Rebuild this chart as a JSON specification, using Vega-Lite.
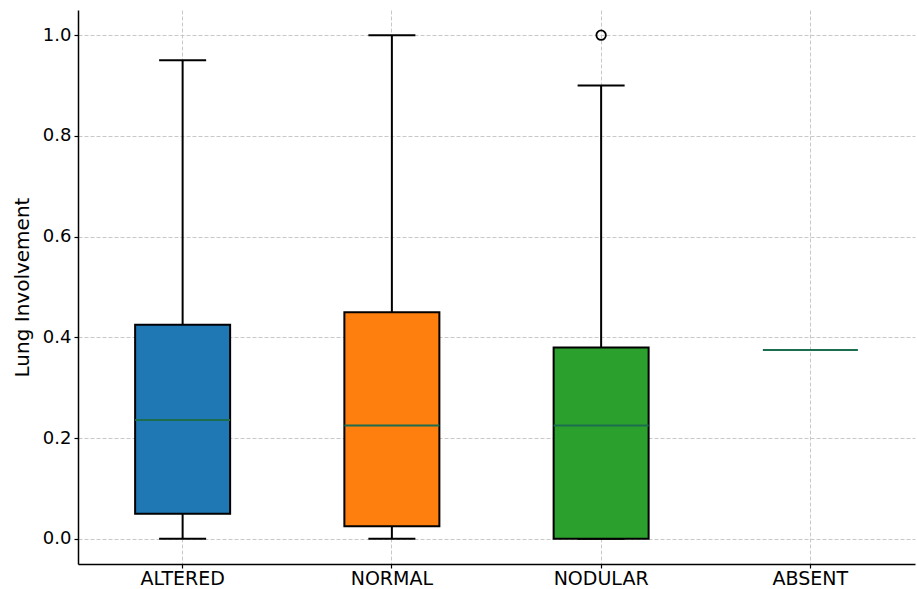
{
  "$schema": "https://vega.github.io/schema/vega-lite/v6.json",
  "width": 837,
  "height": 554,
  "autosize": {"type": "none"},
  "padding": {"left": 78, "top": 10, "right": 2, "bottom": 25},
  "background": "white",
  "config": {
    "view": {"stroke": null},
    "font": "DejaVu Sans",
    "axis": {
      "labelFont": "DejaVu Sans",
      "titleFont": "DejaVu Sans",
      "labelFontSize": 18,
      "titleFontSize": 20,
      "labelColor": "#000000",
      "titleColor": "#000000",
      "titleFontWeight": "normal",
      "domainColor": "#000000",
      "domainWidth": 1.5,
      "tickColor": "#000000",
      "tickSize": 4,
      "tickWidth": 1.2,
      "labelPadding": 3,
      "gridColor": "#c8c8c8",
      "gridDash": [4, 2],
      "gridWidth": 1
    }
  },
  "datasets": {
    "boxes": [
      {"group": "ALTERED", "lower": 0.0, "q1": 0.05, "median": 0.236, "q3": 0.425, "upper": 0.95},
      {"group": "NORMAL", "lower": 0.0, "q1": 0.025, "median": 0.225, "q3": 0.45, "upper": 1.0},
      {"group": "NODULAR", "lower": 0.0, "q1": 0.0, "median": 0.225, "q3": 0.38, "upper": 0.9},
      {"group": "ABSENT", "lower": null, "q1": null, "median": 0.375, "q3": null, "upper": null}
    ],
    "outliers": [
      {"group": "NODULAR", "value": 1.0}
    ]
  },
  "encoding": {
    "x": {
      "field": "group",
      "type": "nominal",
      "sort": ["ALTERED", "NORMAL", "NODULAR", "ABSENT"],
      "scale": {"paddingInner": 0, "paddingOuter": 0},
      "axis": {"title": null, "labelAngle": 0, "grid": true, "bandPosition": 0.5, "labelPadding": 1, "labelFontSize": 19}
    }
  },
  "layer": [
    {
      "data": {"name": "boxes"},
      "mark": {"type": "rule", "color": "#000000", "strokeWidth": 2},
      "encoding": {
        "y": {
          "field": "lower",
          "type": "quantitative",
          "scale": {"domain": [-0.05, 1.05], "nice": false, "zero": false},
          "axis": {"title": "Lung Involvement", "values": [0, 0.2, 0.4, 0.6, 0.8, 1.0], "format": ".1f", "grid": true, "titlePadding": 10}
        },
        "y2": {"field": "upper"}
      }
    },
    {
      "data": {"name": "boxes"},
      "mark": {"type": "tick", "color": "#000000", "thickness": 2, "size": 47, "opacity": 1},
      "encoding": {"y": {"field": "lower", "type": "quantitative"}}
    },
    {
      "data": {"name": "boxes"},
      "mark": {"type": "tick", "color": "#000000", "thickness": 2, "size": 47, "opacity": 1},
      "encoding": {"y": {"field": "upper", "type": "quantitative"}}
    },
    {
      "data": {"name": "boxes"},
      "mark": {"type": "bar", "size": 95, "stroke": "#000000", "strokeWidth": 2, "opacity": 1},
      "encoding": {
        "y": {"field": "q1", "type": "quantitative"},
        "y2": {"field": "q3"},
        "color": {
          "field": "group",
          "type": "nominal",
          "scale": {"domain": ["ALTERED", "NORMAL", "NODULAR", "ABSENT"], "range": ["#1f77b4", "#ff7f0e", "#2ca02c", "#d62728"]},
          "legend": null
        }
      }
    },
    {
      "data": {"name": "boxes"},
      "mark": {"type": "tick", "color": "#1a6e4e", "thickness": 2, "size": 95, "opacity": 1},
      "encoding": {"y": {"field": "median", "type": "quantitative"}}
    },
    {
      "data": {"name": "outliers"},
      "mark": {"type": "point", "shape": "circle", "filled": false, "color": "#000000", "strokeWidth": 1.8, "size": 90, "opacity": 1},
      "encoding": {"y": {"field": "value", "type": "quantitative"}}
    }
  ]
}
